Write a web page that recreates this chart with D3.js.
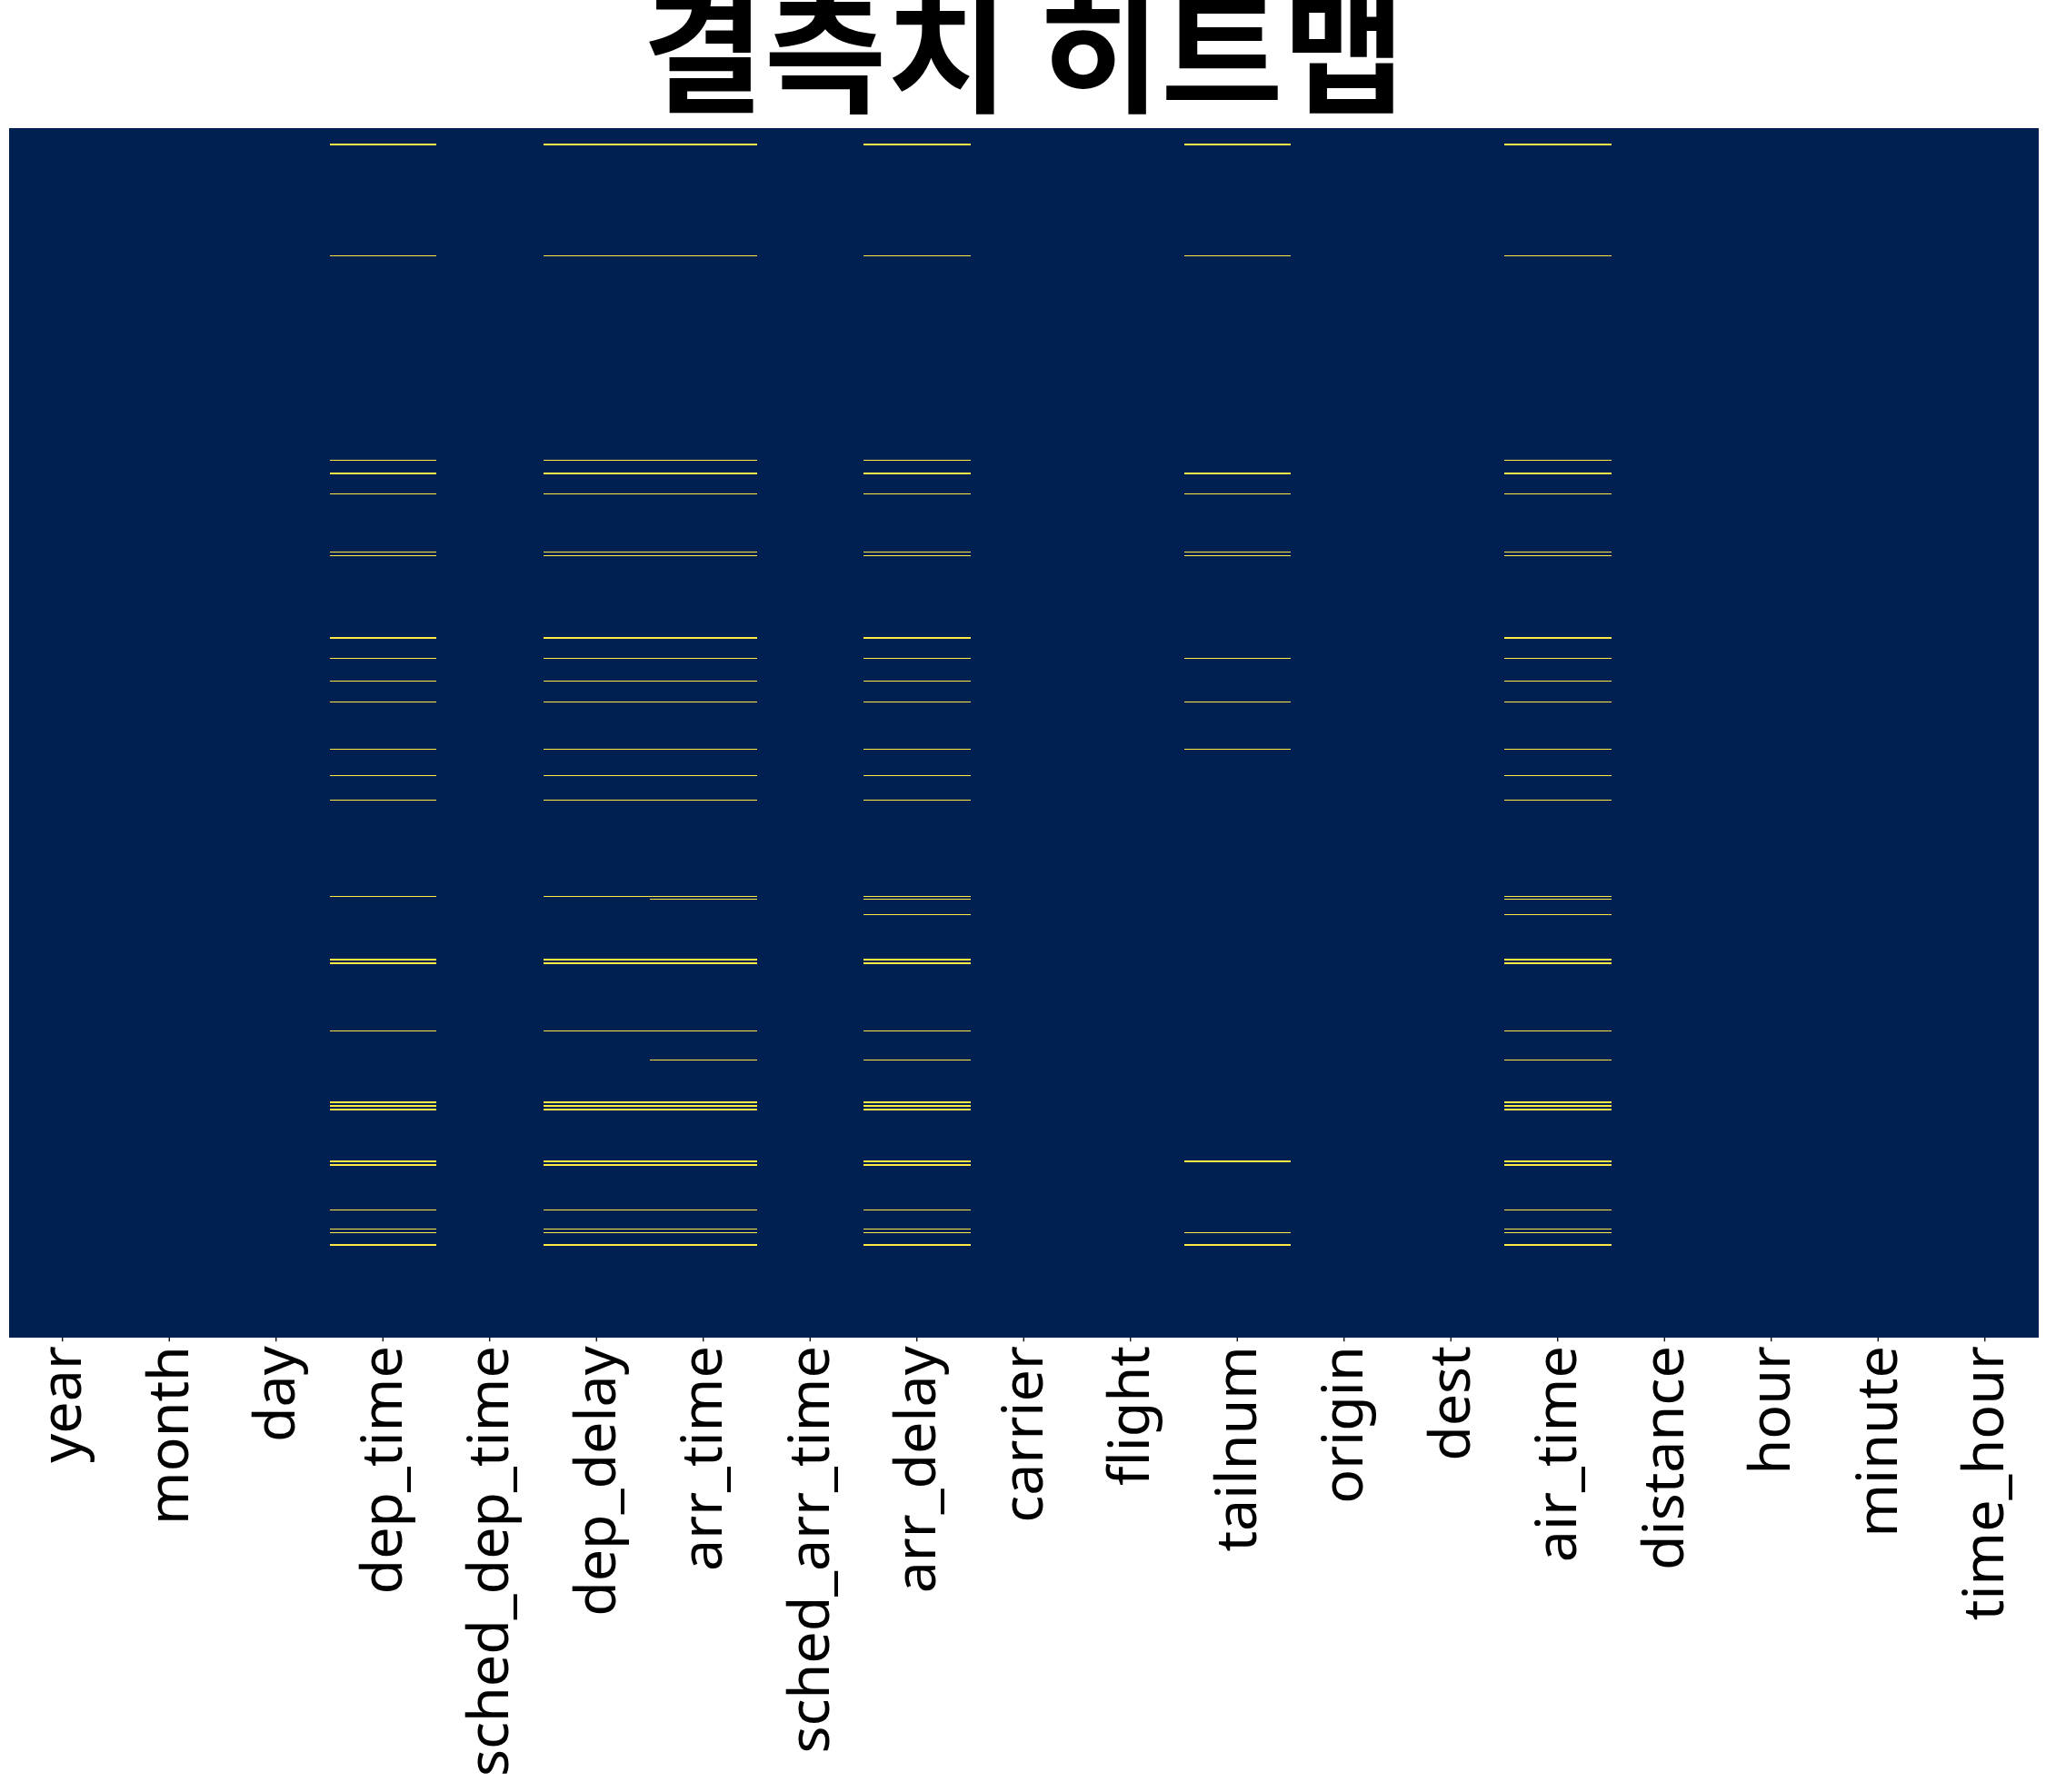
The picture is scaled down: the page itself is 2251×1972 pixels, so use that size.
<!DOCTYPE html>
<html>
<head>
<meta charset="utf-8">
<script src="https://cdn.jsdelivr.net/npm/d3@7"></script>
<style>
  html, body { margin: 0; padding: 0; background: #ffffff; }
  svg { display: block; }
</style>
</head>
<body>
<script>
// ---------------- DATA ----------------
const columns = ["year", "month", "day", "dep_time", "sched_dep_time", "dep_delay",
  "arr_time", "sched_arr_time", "arr_delay", "carrier", "flight", "tailnum",
  "origin", "dest", "air_time", "distance", "hour", "minute", "time_hour"];

const nRows = 1000; // number of observations (rows of the heatmap)

// row indices (0 = top) where each column is missing
const depTimeMissing  = [13, 105, 274, 285, 302, 350, 353, 421, 438, 457, 474, 513, 535, 555, 635, 687, 690, 746, 805, 808, 811, 854, 857, 894, 910, 913, 923];
const depDelayMissing = [13, 105, 274, 285, 302, 350, 353, 421, 438, 457, 474, 513, 535, 555, 635, 687, 690, 746, 805, 808, 811, 854, 857, 894, 910, 913, 923];
const arrTimeMissing  = [13, 105, 274, 285, 302, 350, 353, 421, 438, 457, 474, 513, 535, 555, 635, 637, 687, 690, 746, 770, 805, 808, 811, 854, 857, 894, 910, 913, 923];
const arrDelayMissing = [13, 105, 274, 285, 302, 350, 353, 421, 438, 457, 474, 513, 535, 555, 635, 637, 650, 687, 690, 746, 770, 805, 808, 811, 854, 857, 894, 910, 913, 923];
const tailnumMissing  = [13, 105, 285, 302, 350, 353, 438, 474, 513, 854, 913, 923];
const airTimeMissing  = [13, 105, 274, 285, 302, 350, 353, 421, 438, 457, 474, 513, 535, 555, 635, 637, 650, 687, 690, 746, 770, 805, 808, 811, 854, 857, 894, 910, 913, 923];

const titleText = "결측치 히트맵";

// ---------------- BUILD ----------------
const missingByColumn = new Map([
  ["dep_time", depTimeMissing],
  ["dep_delay", depDelayMissing],
  ["arr_time", arrTimeMissing],
  ["arr_delay", arrDelayMissing],
  ["tailnum", tailnumMissing],
  ["air_time", airTimeMissing]
]);
const missingCells = [];
columns.forEach(c => (missingByColumn.get(c) || []).forEach(r => missingCells.push({col: c, row: r, value: 1})));

const W = 2251, H = 1972;
const plot = {left: 10, right: 2242.5, top: 141, bottom: 1471.7};

const svg = d3.select("body").append("svg")
  .attr("width", W).attr("height", H)
  .attr("viewBox", `0 0 ${W} ${H}`);

const x = d3.scaleBand().domain(columns).range([plot.left, plot.right]).padding(0);
const y = d3.scaleLinear().domain([0, nRows]).range([plot.top, plot.bottom]);
const color = d3.scaleSequential(d3.interpolateCividis).domain([0, 1]);

// present (0) background cells per column
svg.append("g").selectAll("rect.col")
  .data(columns).join("rect")
  .attr("class", "col")
  .attr("x", d => x(d))
  .attr("y", y(0))
  .attr("width", x.bandwidth() + 0.5)
  .attr("height", y(nRows) - y(0))
  .attr("fill", color(0))
  .attr("shape-rendering", "crispEdges");

// missing (1) cells
svg.append("g").selectAll("rect.miss")
  .data(missingCells).join("rect")
  .attr("class", "miss")
  .attr("x", d => x(d.col))
  .attr("y", d => y(d.row))
  .attr("width", x.bandwidth())
  .attr("height", d => y(d.row + 1) - y(d.row))
  .attr("fill", d => color(d.value))
  .attr("shape-rendering", "crispEdges");

// ---------------- AXIS ----------------
const labelFont = "'Noto Sans', 'Open Sans', sans-serif";
// fit tick label font size so that the longest label matches reference length
const probe = svg.append("text").attr("font-family", labelFont).attr("font-size", 100).text("sched_dep_time");
const probeLen = probe.node().getComputedTextLength();
probe.remove();
const labelSize = 100 * 474 / probeLen;

const tickLen = 4.5;
const axis = d3.axisBottom(x).tickSize(tickLen).tickPadding(0);
const gx = svg.append("g")
  .attr("transform", `translate(0,${plot.bottom})`)
  .call(axis);
gx.select(".domain").remove();
gx.selectAll(".tick line").attr("stroke", "#000").attr("stroke-width", 1.3);
gx.selectAll(".tick text")
  .attr("font-family", labelFont)
  .attr("font-size", labelSize)
  .attr("fill", "#000")
  .attr("text-anchor", "end")
  .attr("transform", "rotate(-90)")
  .attr("x", -(tickLen + 5))
  .attr("y", 0)
  .attr("dy", (labelSize * 0.33) + "px");

// ---------------- TITLE ----------------
const titleFont = "'Noto Sans CJK KR', sans-serif";
const tprobe = svg.append("text").attr("font-family", titleFont).attr("font-weight", 700)
  .attr("font-size", 100).text(titleText);
const tLen = tprobe.node().getComputedTextLength();
tprobe.remove();
const titleSize = 826 / (tLen / 100 - 0.09);
svg.append("text")
  .attr("x", (plot.left + plot.right) / 2)
  .attr("y", 122 - 0.07 * titleSize)
  .attr("text-anchor", "middle")
  .attr("font-family", titleFont)
  .attr("font-weight", 700)
  .attr("font-size", titleSize)
  .attr("fill", "#000")
  .text(titleText);
</script>
</body>
</html>
